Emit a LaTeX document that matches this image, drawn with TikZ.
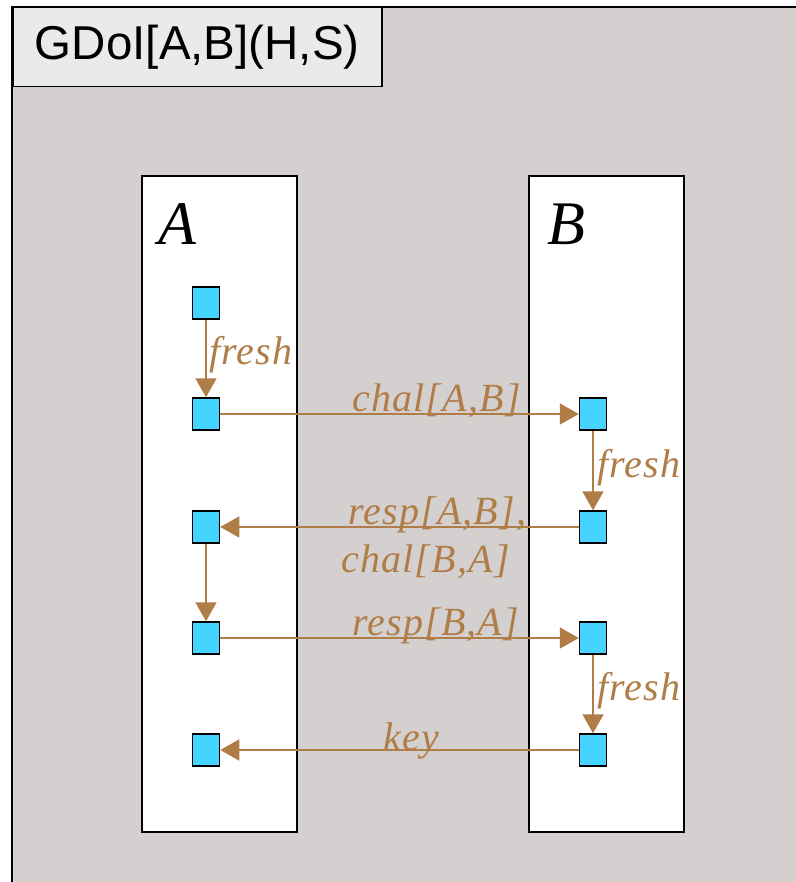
\documentclass[tikz,border=0pt]{standalone}
\usepackage{fontspec}
\setmainfont{Liberation Serif}
\newfontfamily\titlefont{Liberation Sans}
\newfontfamily\lblfont[LetterSpace=3]{Liberation Serif}
\usetikzlibrary{arrows.meta}
\definecolor{bg}{HTML}{D4D0CF}
\definecolor{titlebg}{HTML}{EAEAEA}
\definecolor{evt}{HTML}{45D4FF}
\definecolor{msg}{HTML}{B07D48}
\tikzset{
  evbox/.style={draw=black, line width=1.5pt, fill=evt, minimum width=27pt, minimum height=32pt, inner sep=0pt},
  lane/.style={draw=black, line width=1.6pt, fill=white},
  conn/.style={draw=msg, line width=1.8pt, -{Triangle[length=19pt,width=21pt]}},
  lbl/.style={text=msg, font=\lblfont\fontsize{40}{44}\selectfont\itshape, inner sep=0pt, anchor=base west},
}
\begin{document}
\begin{tikzpicture}[x=1pt,y=-1pt]
\useasboundingbox (0,0) rectangle (795,882);
\fill[white] (0,0) rectangle (795,882);
\draw[fill=bg, line width=1.5pt] (12,7) rectangle (810,900);
\node[draw=black, line width=1.5pt, fill=titlebg, minimum width=369pt, minimum height=79pt, anchor=north west, inner sep=0pt,
      font=\titlefont\fontsize{47.5}{52}\selectfont] (title) at (12,7) {GDoI[A,B](H,S)};
\node[lane, minimum width=155pt, minimum height=656pt, anchor=north west, inner sep=0pt] (laneA) at (141,175) {};
\node[lane, minimum width=155pt, minimum height=656pt, anchor=north west, inner sep=0pt] (laneB) at (528,175) {};
\node[font=\fontsize{62}{66}\selectfont\itshape, anchor=base west, inner sep=0pt] (nameA) at (158,245) {A};
\node[font=\fontsize{62}{66}\selectfont\itshape, anchor=base west, inner sep=0pt] (nameB) at (547,245) {B};
\node[evbox] (a1) at (206,303) {};
\node[evbox] (a2) at (206,414) {};
\node[evbox] (a3) at (206,527) {};
\node[evbox] (a4) at (206,638) {};
\node[evbox] (a5) at (206,750) {};
\node[evbox] (b2) at (593,414) {};
\node[evbox] (b3) at (593,527) {};
\node[evbox] (b4) at (593,638) {};
\node[evbox] (b5) at (593,750) {};
\draw[conn] (a1) -- (a2);
\draw[conn] (a3) -- (a4);
\draw[conn] (b2) -- (b3);
\draw[conn] (b4) -- (b5);
\draw[conn] (a2) -- (b2);
\draw[conn] (b3) -- (a3);
\draw[conn] (a4) -- (b4);
\draw[conn] (b5) -- (a5);
\node[lbl] (l1) at (209,364) {fresh};
\node[lbl] (l2) at (352,411) {chal[A,B]};
\node[lbl] (l3) at (597,477) {fresh};
\node[lbl] (l4) at (348,524) {resp[A,B],};
\node[lbl] (l5) at (341,572) {chal[B,A]};
\node[lbl] (l6) at (352,635) {resp[B,A]};
\node[lbl] (l7) at (597,700) {fresh};
\node[lbl] (l8) at (383,750) {key};
\end{tikzpicture}
\end{document}
